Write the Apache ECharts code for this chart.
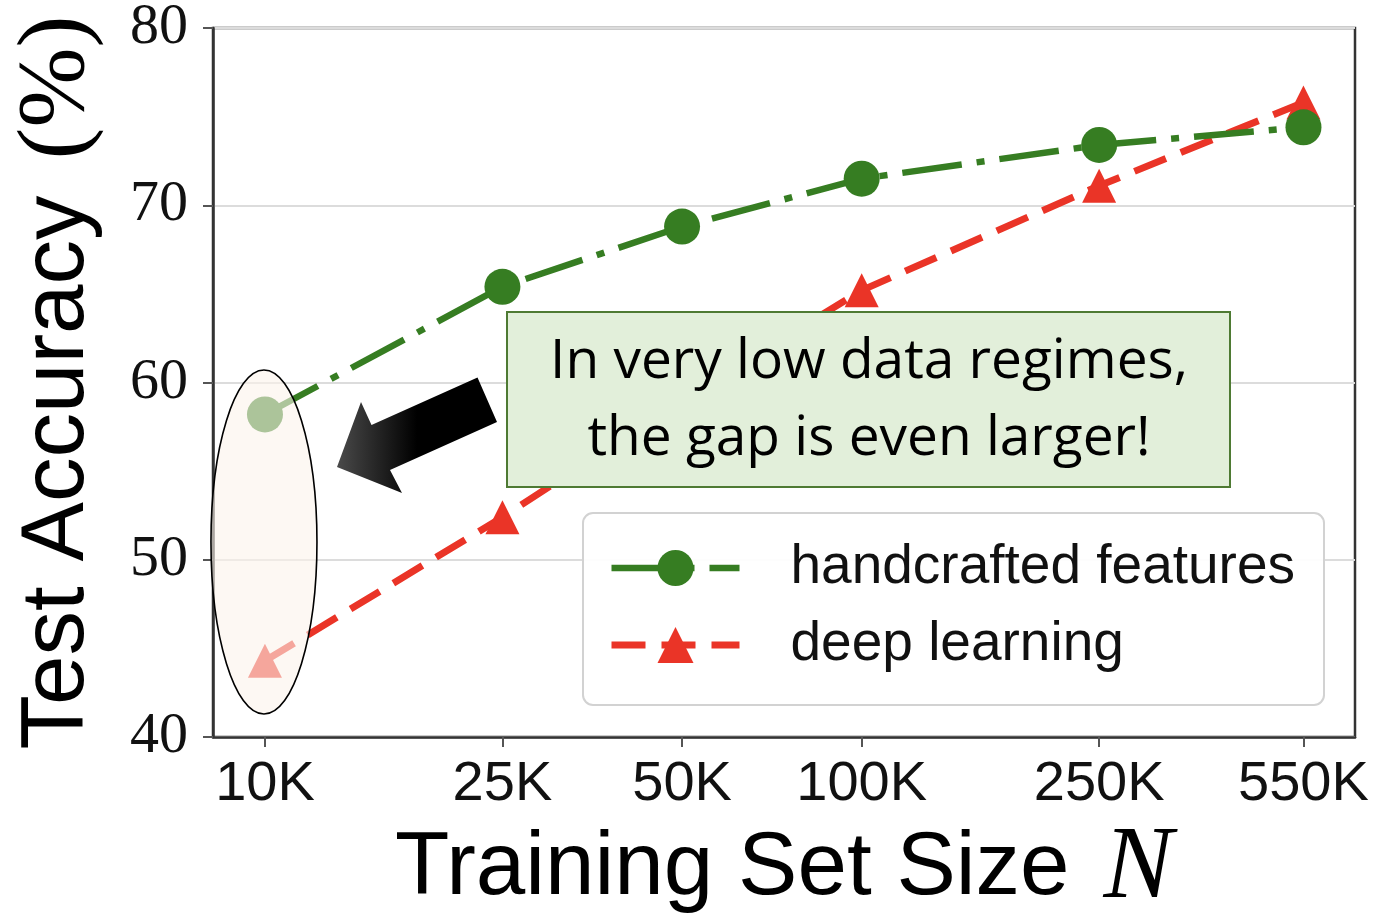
<!DOCTYPE html>
<html>
<head>
<meta charset="utf-8">
<script src="https://cdn.jsdelivr.net/npm/echarts@6/dist/echarts.min.js"></script>
<style>
  html, body { margin: 0; padding: 0; background: #ffffff; }
  #chart { width: 1375px; height: 921px; }
</style>
</head>
<body>
<div id="chart"></div>
<script>
// Training set sizes (log-scaled x axis) and their tick labels
const sizes = [10000, 25000, 50000, 100000, 250000, 550000];
const sizeLabels = ['10K', '25K', '50K', '100K', '250K', '550K'];

// Test accuracy (%) for each approach
const handcrafted = [58.2, 65.4, 68.8, 71.5, 73.4, 74.4];
const deepLearning = [44.3, 52.4, 59.0, 65.2, 71.1, 75.8];

const seriesNames = ['handcrafted features', 'deep learning'];
const yTicks = [40, 50, 60, 70, 80];

const noteLines = ['In very low data regimes,', 'the gap is even larger!'];

const GREEN = '#367d22';
const RED = '#ea3427';
const SANS = 'Liberation Sans';
const SERIF = 'Liberation Serif';

const chart = echarts.init(document.getElementById('chart'), null, { renderer: 'canvas' });

const toPairs = (vals) => sizes.map((n, i) => [n, vals[i]]);

chart.setOption({
  animation: false,
  backgroundColor: '#ffffff',
  grid: {
    left: 213, right: 20, top: 28, bottom: 184,
    show: true, borderColor: '#333333', borderWidth: 2.5,
    outerBoundsMode: 'none'
  },
  xAxis: {
    type: 'log',
    min: 8183,
    max: 671000,
    name: '{a|Training Set Size}{n|N}',
    nameLocation: 'middle',
    nameGap: 75,
    nameTextStyle: {
      rich: {
        a: { fontFamily: SANS, fontSize: 89, lineHeight: 110, color: '#000' },
        n: { fontFamily: SERIF, fontStyle: 'italic', fontSize: 104, lineHeight: 110, color: '#000', padding: [0, 0, 0, 34] }
      }
    },
    axisLine: { show: true, lineStyle: { color: '#333333', width: 2.5 } },
    axisTick: { show: true, customValues: sizes, length: 10, lineStyle: { color: '#555', width: 2 } },
    axisLabel: {
      show: true,
      customValues: sizes,
      margin: 20,
      fontFamily: SANS,
      fontSize: 56,
      color: '#111',
      formatter: (v) => {
        const i = sizes.findIndex((s) => Math.abs(s - v) / s < 1e-6);
        return i >= 0 ? sizeLabels[i] : '';
      }
    },
    splitLine: { show: false },
    minorTick: { show: false },
    minorSplitLine: { show: false }
  },
  yAxis: {
    type: 'value',
    min: yTicks[0],
    max: yTicks[yTicks.length - 1],
    interval: 10,
    name: '{a|Test Accuracy}{b|(%)}',
    nameLocation: 'middle',
    nameGap: 100,
    nameRotate: 90,
    nameTextStyle: {
      rich: {
        a: { fontFamily: SANS, fontSize: 89, lineHeight: 110, color: '#000' },
        b: { fontFamily: SERIF, fontSize: 96, lineHeight: 110, color: '#000', padding: [0, 0, 0, 36] }
      }
    },
    axisLine: { show: true, lineStyle: { color: '#333333', width: 2.5 } },
    axisTick: { show: true, length: 10, lineStyle: { color: '#555', width: 2 } },
    axisLabel: { margin: 25, fontFamily: SERIF, fontSize: 58, color: '#111', padding: [10, 0, 0, 0] },
    splitLine: { show: true, lineStyle: { color: '#dcdcdc', width: 2 } }
  },
  legend: {
    data: [
      { name: seriesNames[0], lineStyle: { width: 6.5 } },
      { name: seriesNames[1], lineStyle: { width: 7 } }
    ],
    orient: 'vertical',
    left: 583,
    top: 513,
    itemWidth: 128,
    itemHeight: 45,
    itemGap: 17,
    padding: [25, 29, 30, 25],
    backgroundColor: 'rgba(255,255,255,0.92)',
    borderColor: '#d2d2d2',
    borderWidth: 2,
    borderRadius: 10,
    z: 6,
    textStyle: { fontFamily: SANS, fontSize: 55, lineHeight: 60, color: '#111', padding: [0, 0, 0, 46] }
  },
  series: [
    {
      name: seriesNames[0],
      type: 'line',
      z: 3,
      data: toPairs(handcrafted),
      symbol: 'circle',
      symbolSize: 36,
      showSymbol: true,
      itemStyle: { color: GREEN },
      lineStyle: { color: GREEN, width: 6.5, type: [60, 15, 8, 15] }
    },
    {
      name: seriesNames[1],
      type: 'line',
      z: 2,
      data: toPairs(deepLearning),
      symbol: 'triangle',
      symbolSize: 34,
      showSymbol: true,
      itemStyle: { color: RED },
      lineStyle: { color: RED, width: 7, type: [34, 16] }
    }
  ]
});

// Highlight ellipse around the smallest training set size
const [ex, ey] = chart.convertToPixel({ gridIndex: 0 }, [sizes[0], 51]);

chart.setOption({
  graphic: [
    {
      type: 'ellipse',
      z: 20,
      shape: { cx: ex - 1, cy: ey, rx: 53, ry: 172 },
      style: { fill: 'rgba(251,243,235,0.6)', stroke: '#000', lineWidth: 1.6 }
    },
    {
      // block arrow pointing at the ellipse
      type: 'polygon',
      z: 20,
      shape: {
        points: [[337, 467], [361, 402], [371.5, 425], [477.5, 377.5], [497, 422], [390, 470], [402, 493]]
      },
      style: {
        fill: new echarts.graphic.LinearGradient(337, 0, 497, 0, [
          { offset: 0, color: '#4a4a4a' },
          { offset: 0.5, color: '#000000' },
          { offset: 1, color: '#000000' }
        ], true)
      }
    },
    {
      type: 'rect',
      z: 20,
      shape: { x: 507, y: 312, width: 723, height: 175 },
      style: { fill: '#e2efda', stroke: '#4e7a33', lineWidth: 2 }
    },
    {
      type: 'text',
      z: 21,
      x: 869,
      y: 362,
      style: {
        text: noteLines[0],
        align: 'center',
        verticalAlign: 'middle',
        fontFamily: 'Open Sans',
        fontSize: 55,
        fill: '#000'
      }
    },
    {
      type: 'text',
      z: 21,
      x: 869,
      y: 439,
      style: {
        text: noteLines[1],
        align: 'center',
        verticalAlign: 'middle',
        fontFamily: 'Open Sans',
        fontSize: 55,
        fill: '#000'
      }
    }
  ]
});
</script>
</body>
</html>
